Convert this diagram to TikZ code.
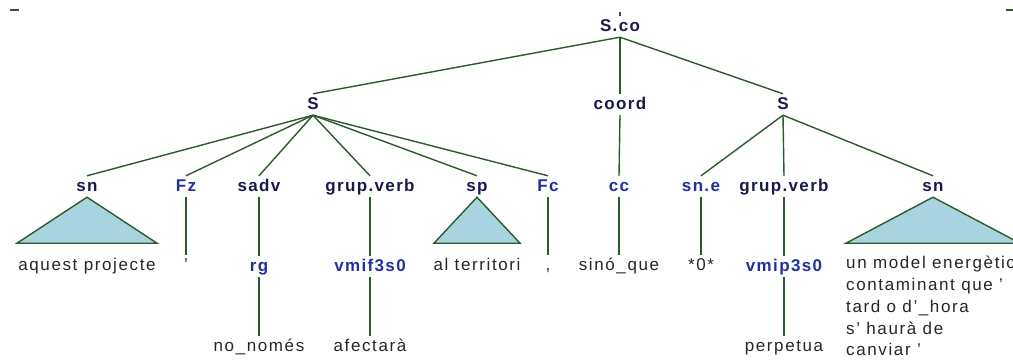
\documentclass[tikz,border=0pt]{standalone}
\usepackage{fontspec}
\setmainfont{Liberation Sans}[LetterSpace=8]
\newfontfamily\leaffont{Liberation Sans}[LetterSpace=9.5]
\usetikzlibrary{positioning}
\definecolor{treeline}{HTML}{2D5A2D}
\definecolor{catdark}{HTML}{1A1A4A}
\definecolor{catblue}{HTML}{2030A0}
\definecolor{roofblue}{HTML}{A8D4E0}

\begin{document}
\begin{tikzpicture}[x=1pt,y=1pt,
  cat/.style={font=\fontsize{17}{20}\selectfont\bfseries, text=catdark, inner sep=3pt, text height=12pt, text depth=3pt, anchor=base},
  tag/.style={cat, text=catblue},
  word/.style={font=\fontsize{17}{21.8}\leaffont, text=black!85, inner sep=3pt, text height=12pt, text depth=3pt, anchor=base},
  branch/.style={draw=treeline, line width=1.4pt},
  roof/.style={branch, fill=roofblue}]
\useasboundingbox (0,0) rectangle (1013,-362);

\node[cat] (SCO) at (620,-31) {S.co};
\node[cat] (SA) at (313,-109) {S};
\node[cat] (COORD) at (620,-109) {coord};
\node[cat] (SB) at (783,-109) {S};

\node[cat] (SNA) at (87,-191) {sn};
\node[tag] (FZ) at (186,-191) {Fz};
\node[cat] (SADV) at (259,-191) {sadv};
\node[cat] (GVA) at (370,-191) {grup.verb};
\node[cat] (SP) at (477,-191) {sp};
\node[tag] (FC) at (548,-191) {Fc};
\node[tag] (CC) at (619,-191) {cc};
\node[tag] (SNE) at (701,-191) {sn.e};
\node[cat] (GVB) at (784,-191) {grup.verb};
\node[cat] (SNB) at (933,-191) {sn};

\node[word] (AQ) at (87,-270) {aquest projecte};
\node[word] (APO) at (186,-270) {’};
\node[tag] (RG) at (259,-271) {rg};
\node[tag] (VMIF) at (370,-271) {vmif3s0};
\node[word] (TERR) at (477,-270) {al territori};
\node[word] (COMA) at (548,-270) {,};
\node[word] (SINO) at (619,-270) {sinó\_que};
\node[word] (ZERO) at (701,-270) {*0*};
\node[tag] (VMIP) at (784,-271) {vmip3s0};
\node[word, anchor=north west, align=left, text height=, text depth=, inner sep=0pt] (MODEL) at (846,-256)
  {un model energètic\\contaminant que ’\\tard o d’\_hora\\s’ haurà de\\canviar ’};

\node[word] (NOM) at (259,-351) {no\_només};
\node[word] (AFEC) at (370,-351) {afectarà};
\node[word] (PERP) at (784,-351) {perpetua};

\draw[branch] (SCO.south) -- (SA.north);
\draw[branch] (SCO.south) -- (COORD.north);
\draw[branch] (SCO.south) -- (SB.north);
\draw[branch] (SCO.north) -- ++(0,4);

\foreach \kid in {SNA,FZ,SADV,GVA,SP,FC}
  \draw[branch] (SA.south) -- (\kid.north);
\draw[branch] (COORD.south) -- (CC.north);
\foreach \kid in {SNE,GVB,SNB}
  \draw[branch] (SB.south) -- (\kid.north);

\filldraw[roof] (SNA.south) -- ++(-70,-46) -- ++(140,0) -- cycle;
\filldraw[roof] (SP.south) -- ++(-43,-46) -- ++(86,0) -- cycle;
\filldraw[roof] (SNB.south) -- ++(-87,-46) -- ++(174,0) -- cycle;

\draw[branch] (FZ.south) -- (APO.north);
\draw[branch] (SADV.south) -- (RG.north);
\draw[branch] (GVA.south) -- (VMIF.north);
\draw[branch] (FC.south) -- (COMA.north);
\draw[branch] (CC.south) -- (SINO.north);
\draw[branch] (SNE.south) -- (ZERO.north);
\draw[branch] (GVB.south) -- (VMIP.north);
\draw[branch] (RG.south) -- (NOM.north);
\draw[branch] (VMIF.south) -- (AFEC.north);
\draw[branch] (VMIP.south) -- (PERP.north);

\draw[branch] (10,-10) -- (19,-10);
\draw[branch] (1006,-10) -- (1013,-10);
\end{tikzpicture}
\end{document}
